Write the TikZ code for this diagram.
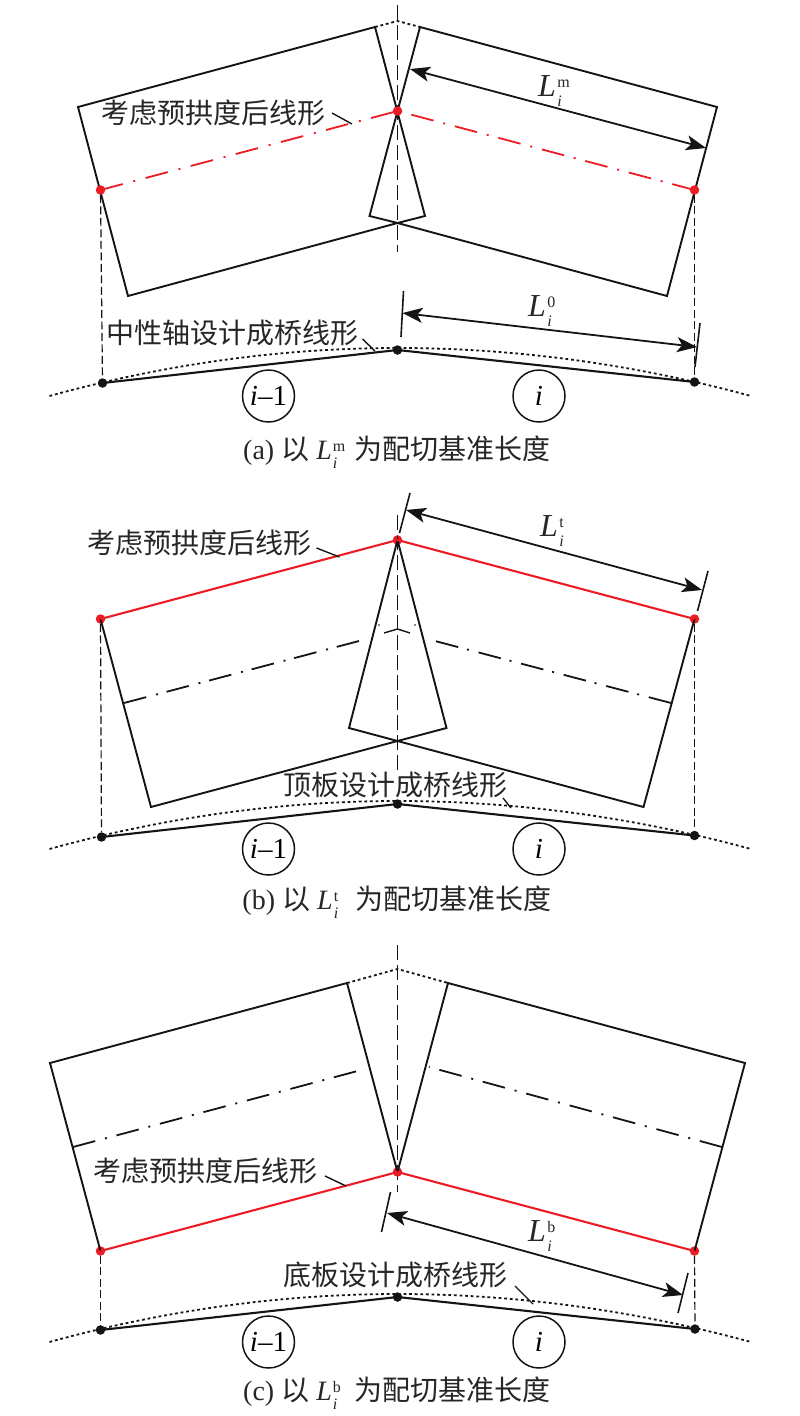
\documentclass[tikz,border=0pt]{standalone}
\usepackage{fontspec}
\setmainfont{Liberation Serif}
\newfontfamily\cjk{Noto Sans CJK SC}
\usetikzlibrary{arrows.meta}
\newcommand\Lsym[1]{\textit{L}\kern0.04em\rlap{\raisebox{0.29em}{\fontsize{16}{16}\selectfont #1}}\raisebox{-0.30em}{\fontsize{16}{16}\selectfont\textit{i}}}
\newcommand\Icap[2]{(#1) {\cjk 以} \Lsym{#2}\hspace{0.62em}{\cjk 为配切基准长度}}
\definecolor{rd}{RGB}{237,28,36}
\definecolor{ink}{RGB}{20,20,20}
\tikzset{
  solidline/.style={draw=ink,line width=1.9pt,line join=miter},
  groundline/.style={draw=ink,line width=2.1pt},
  redline/.style={draw=rd,line width=2.1pt},
  reddash/.style={draw=rd,line width=1.8pt,dash pattern=on 23pt off 10pt on 2pt off 10pt},
  reddashb/.style={draw=rd,line width=1.8pt,dash pattern=on 23pt off 11pt on 2pt off 10.67pt},
  blackdash/.style={draw=ink,line width=1.8pt,dash pattern=on 23pt off 10pt on 2pt off 10pt},
  blackdashb/.style={draw=ink,line width=1.8pt,dash pattern=on 23pt off 10pt on 2pt off 9pt},
  axisline/.style={draw=ink,line width=1.5pt,dash pattern=on 15pt off 5pt},
  dropline/.style={draw=ink,line width=1.2pt,dash pattern=on 8pt off 3.5pt},
  dotline/.style={draw=ink,line width=1.8pt,dash pattern=on 2.8pt off 2.8pt},
  leader/.style={draw=ink,line width=1.4pt},
  tickline/.style={draw=ink,line width=1.6pt},
  dimline/.style={draw=ink,line width=1.8pt,{Stealth[length=20pt,width=15pt,inset=5pt]}-{Stealth[length=20pt,width=15pt,inset=5pt]}},
  reddot/.style={circle,fill=rd,minimum size=9.5pt,inner sep=0pt},
  blackdot/.style={circle,fill=ink,minimum size=9.5pt,inner sep=0pt},
  segcircle/.style={circle,draw=ink,line width=1.5pt,minimum size=52pt,inner sep=0pt,font=\fontsize{29}{30}\selectfont},
  txt/.style={inner sep=0pt,text=black!85,font=\fontsize{28}{30}\selectfont\cjk},
  captxt/.style={inner sep=0pt,text=black!85,font=\fontsize{28}{30}\selectfont},
  dimtxt/.style={inner sep=0pt,text=black!85,font=\fontsize{32}{32}\selectfont},
}
\begin{document}
\begin{tikzpicture}[x=1pt,y=-1pt]
\useasboundingbox (0,0) rectangle (800,1416);
%% ---------- panel a
\coordinate (aT) at (397.5,21);
\coordinate (aL1) at (375,27);
\coordinate (aL2) at (78,107);
\coordinate (aL3) at (128,296);
\coordinate (aM) at (397.5,223);
\coordinate (aL4) at (425,216);
\coordinate (aR1) at (420,27);
\coordinate (aR2) at (717,107);
\coordinate (aR3) at (667,296);
\coordinate (aR4) at (369.5,216);
\draw[axisline] (397.5,5) coordinate (aA1) -- (397.5,252) coordinate (aA2);
\draw[solidline] (aL1) -- (aL2) -- (aL3) -- (aM) -- (aL4) -- cycle;
\draw[solidline] (aR1) -- (aR2) -- (aR3) -- (aM) -- (aR4) -- cycle;
\draw[dotline] (aL1) -- (aT) -- (aR1);
\node[reddot] (aP) at (100.5,190) {};
\node[reddot] (aQ) at (397.5,111) {};
\node[reddot] (aS) at (694.5,190) {};
\draw[reddashb] (aP.center) -- (aQ.center);
\draw[reddash] (aS.center) -- (aQ.center);
\node[blackdot] (aG1) at (102.5,383) {};
\node[blackdot] (aG2) at (397.5,350) {};
\node[blackdot] (aG3) at (694.5,382) {};
\draw[dropline] (aP) -- (aG1);
\draw[dropline] (aS) -- (aG3);
\draw[groundline] (aG1.center) -- (aG2.center) -- (aG3.center);
\draw[dotline] (49.5,396) .. controls (165.5,364) and (281.5,348) .. (397.5,348) .. controls (515.3,348) and (633.2,364) .. (751,396);
\node[txt] (aT1) at (213.5,113) {考虑预拱度后线形};
\draw[leader] (332,113) coordinate (aK1) -- (352,124) coordinate (aK2);
\node[txt] (aT2) at (232,333) {中性轴设计成桥线形};
\draw[leader] (362.5,339) coordinate (aK3) -- (375,351) coordinate (aK4);
\draw[dimline] (410,69) coordinate (aD1) -- (706,148) coordinate (aD2);
\node[dimtxt] (aLm) at (550,91) {\Lsym{m}};
\draw[tickline] (403.5,291) coordinate (aE1) -- (401,337) coordinate (aE2);
\draw[tickline] (700,323) coordinate (aE3) -- (695,367) coordinate (aE4);
\draw[dimline] (402.5,313) coordinate (aD3) -- (697,347) coordinate (aD4);
\node[dimtxt] (aL0) at (540,311) {\Lsym{0}};
\node[segcircle] (aC1) at (268.5,396) {\textit{i}–1};
\node[segcircle] (aC2) at (539,396) {\textit{i}};
\node[captxt] (aCap) at (397,452) {\Icap{a}{m}};
%% ---------- panel b
\coordinate (bM) at (397.5,741);
\coordinate (bL3) at (151,807);
\coordinate (bL4) at (446.5,728);
\coordinate (bR3) at (643.5,807);
\coordinate (bR4) at (349,728);
\draw[axisline] (397.5,515) coordinate (bA1) -- (397.5,770) coordinate (bA2);
\node[reddot] (bP) at (100.5,619) {};
\node[reddot] (bQ) at (397.5,540) {};
\node[reddot] (bS) at (694.5,619) {};
\draw[solidline] (bP.center) -- (bL3) -- (bM) -- (bL4) -- (bQ.center) -- (bR4) -- (bM) -- (bR3) -- (bS.center);
\draw[redline] (bP.center) -- (bQ.center) -- (bS.center);
\draw[blackdashb] (124,703) coordinate (bX2) -- (359,641) coordinate (bX1);
\draw[blackdashb] (671,703) coordinate (bX4) -- (435,641) coordinate (bX3);
\draw[leader] (384,633) coordinate (bX5) -- (397.5,629) coordinate (bX6) -- (410,633) coordinate (bX7);
\fill[ink] (379,625) coordinate (bX8) circle (0.8);
\fill[ink] (415,625) coordinate (bX9) circle (0.8);
\node[blackdot] (bG1) at (101.5,837) {};
\node[blackdot] (bG2) at (397.5,804) {};
\node[blackdot] (bG3) at (694.5,835.5) {};
\draw[dropline] (bP) -- (bG1);
\draw[dropline] (bS) -- (bG3);
\draw[groundline] (bG1.center) -- (bG2.center) -- (bG3.center);
\draw[dotline] (49.5,849) .. controls (165.5,817) and (281.5,801) .. (397.5,801) .. controls (515.3,801) and (633.2,817) .. (751,849);
\node[txt] (bT1) at (199,543) {考虑预拱度后线形};
\draw[leader] (316.5,548) coordinate (bK1) -- (339.5,557) coordinate (bK2);
\node[txt] (bT2) at (395,785) {顶板设计成桥线形};
\draw[leader] (503,798) coordinate (bK3) -- (511,808) coordinate (bK4);
\draw[tickline] (410,493) coordinate (bE1) -- (399.5,533) coordinate (bE2);
\draw[tickline] (708,571) coordinate (bE3) -- (697.5,611) coordinate (bE4);
\draw[dimline] (406,510) coordinate (bD1) -- (702,590) coordinate (bD2);
\node[dimtxt] (bLt) at (552,531) {\Lsym{t}};
\node[segcircle] (bC1) at (268.5,849) {\textit{i}–1};
\node[segcircle] (bC2) at (539,849) {\textit{i}};
\node[captxt] (bCap) at (397,902) {\Icap{b}{t}};
%% ---------- panel c
\coordinate (cT) at (397.5,969);
\coordinate (cL1) at (347,983);
\coordinate (cL2) at (50,1063);
\coordinate (cR1) at (448,983);
\coordinate (cR2) at (745,1063);
\draw[axisline] (397.5,945) coordinate (cA1) -- (397.5,1192) coordinate (cA2);
\node[reddot] (cP) at (100.5,1251) {};
\node[reddot] (cQ) at (397.5,1172) {};
\node[reddot] (cS) at (694.5,1251) {};
\draw[solidline] (cQ.center) -- (cL1) -- (cL2) -- (cP.center);
\draw[solidline] (cQ.center) -- (cR1) -- (cR2) -- (cS.center);
\draw[dotline] (cL1) -- (cT) -- (cR1);
\draw[redline] (cP.center) -- (cQ.center) -- (cS.center);
\draw[blackdash] (73,1147) coordinate (cX2) -- (365,1069) coordinate (cX1);
\draw[blackdash] (722,1147) coordinate (cX4) -- (429,1067) coordinate (cX3);
\node[blackdot] (cG1) at (100.5,1330) {};
\node[blackdot] (cG2) at (397.5,1297) {};
\node[blackdot] (cG3) at (695,1329) {};
\draw[dropline] (cP) -- (cG1);
\draw[dropline] (cS) -- (cG3);
\draw[groundline] (cG1.center) -- (cG2.center) -- (cG3.center);
\draw[dotline] (49.5,1342) .. controls (165.5,1310) and (281.5,1294) .. (397.5,1294) .. controls (515.3,1294) and (633.2,1310) .. (751,1342);
\node[txt] (cT1) at (205,1171) {考虑预拱度后线形};
\draw[leader] (325,1176) coordinate (cK1) -- (346,1186) coordinate (cK2);
\node[txt] (cT2) at (395,1275) {底板设计成桥线形};
\draw[leader] (515,1286) coordinate (cK3) -- (533,1304) coordinate (cK4);
\draw[tickline] (390.5,1192) coordinate (cE1) -- (381.5,1232) coordinate (cE2);
\draw[tickline] (688,1273) coordinate (cE3) -- (678,1313) coordinate (cE4);
\draw[dimline] (387,1213) coordinate (cD1) -- (683,1295) coordinate (cD2);
\node[dimtxt] (cLb) at (540,1236) {\Lsym{b}};
\node[segcircle] (cC1) at (268.5,1342) {\textit{i}–1};
\node[segcircle] (cC2) at (539,1342) {\textit{i}};
\node[captxt] (cCap) at (397,1393) {\Icap{c}{b}};
\end{tikzpicture}
\end{document}
